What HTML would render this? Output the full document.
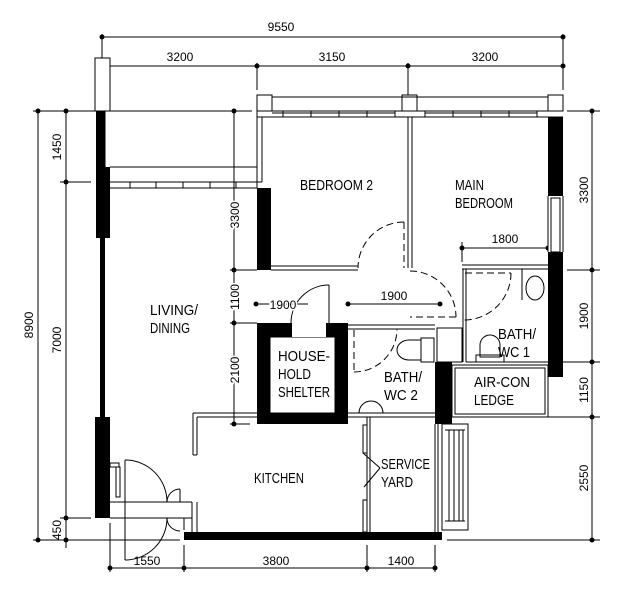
<!DOCTYPE html>
<html><head><meta charset="utf-8"><style>
html,body{margin:0;padding:0;background:#fff}
svg{display:block}
text{font-family:"Liberation Sans",sans-serif;fill:#000}
.t{font-size:15px}
.d{font-size:12px}
</style></head><body>
<svg width="629" height="600" viewBox="0 0 629 600" xmlns="http://www.w3.org/2000/svg">
<g stroke="#000" stroke-width="1" fill="none">
<line x1="102" y1="37" x2="563" y2="37"/>
<line x1="102" y1="66" x2="563" y2="66"/>
<line x1="102" y1="34" x2="102" y2="110"/>
<line x1="563" y1="34" x2="563" y2="90"/>
<line x1="257" y1="63" x2="257" y2="90"/>
<line x1="408" y1="63" x2="408" y2="96"/>
<line x1="38" y1="111" x2="38" y2="540"/>
<line x1="66" y1="111" x2="66" y2="548"/>
<line x1="33" y1="111" x2="252" y2="111"/>
<line x1="60" y1="182" x2="91" y2="182"/>
<line x1="60" y1="518" x2="91" y2="518"/>
<line x1="33" y1="540" x2="180" y2="540"/>
<line x1="234" y1="111" x2="234" y2="424"/>
<line x1="230" y1="270" x2="257" y2="270"/>
<line x1="230" y1="323" x2="257" y2="323"/>
<line x1="230" y1="424" x2="250" y2="424"/>
<line x1="592" y1="111" x2="592" y2="540"/>
<line x1="567" y1="111" x2="600" y2="111"/>
<line x1="567" y1="270" x2="600" y2="270"/>
<line x1="548" y1="362" x2="600" y2="362"/>
<line x1="548" y1="417" x2="600" y2="417"/>
<line x1="447" y1="540" x2="600" y2="540"/>
<line x1="110" y1="568" x2="435" y2="568"/>
<line x1="110" y1="523" x2="110" y2="572"/>
<line x1="184" y1="545" x2="184" y2="572"/>
<line x1="367" y1="545" x2="367" y2="572"/>
<line x1="435" y1="545" x2="435" y2="572"/>
<line x1="256" y1="304" x2="308" y2="304"/>
<line x1="348" y1="304" x2="440" y2="304"/>
<line x1="462" y1="248" x2="548" y2="248"/>
<line x1="462" y1="242" x2="462" y2="262"/>
</g>
<g fill="#000">
<circle cx="102" cy="37" r="2.5"/><circle cx="563" cy="37" r="2.5"/>
<circle cx="102" cy="66" r="2.5"/><circle cx="257" cy="66" r="2.5"/><circle cx="408" cy="66" r="2.5"/><circle cx="563" cy="66" r="2.5"/>
<circle cx="38" cy="111" r="2.5"/><circle cx="38" cy="540" r="2.5"/>
<circle cx="66" cy="111" r="2.5"/><circle cx="66" cy="182" r="2.5"/><circle cx="66" cy="518" r="2.5"/><circle cx="66" cy="540" r="2.5"/>
<circle cx="234" cy="111" r="2.5"/><circle cx="234" cy="270" r="2.5"/><circle cx="234" cy="323" r="2.5"/><circle cx="234" cy="424" r="2.5"/>
<circle cx="592" cy="111" r="2.5"/><circle cx="592" cy="270" r="2.5"/><circle cx="592" cy="362" r="2.5"/><circle cx="592" cy="417" r="2.5"/><circle cx="592" cy="540" r="2.5"/>
<circle cx="110" cy="568" r="2.5"/><circle cx="184" cy="568" r="2.5"/><circle cx="367" cy="568" r="2.5"/><circle cx="435" cy="568" r="2.5"/>
<circle cx="256" cy="304" r="2.5"/><circle cx="348" cy="304" r="2.5"/><circle cx="440" cy="304" r="2.5"/>
<circle cx="462" cy="248" r="2.5"/><circle cx="548" cy="248" r="2.5"/>
<rect x="96" y="111" width="9" height="56"/>
<rect x="96" y="167" width="14" height="71"/>
<rect x="100" y="238" width="5" height="179"/>
<rect x="95" y="417" width="15" height="101"/>
<rect x="257" y="188" width="14" height="82"/>
<rect x="548" y="117" width="15" height="79"/>
<rect x="548" y="252" width="15" height="125"/>
<rect x="257" y="323" width="91" height="101"/>
<rect x="435" y="362" width="17" height="62"/>
<rect x="184" y="532" width="258" height="8"/>
</g>
<g stroke="#000" stroke-width="1" fill="#fff">
<rect x="95" y="58" width="15" height="53"/>
<rect x="257" y="95" width="15" height="16"/>
<rect x="402" y="95" width="15" height="16"/>
<rect x="548" y="95" width="15" height="16"/>
<rect x="270" y="337" width="65" height="76"/>
<rect x="292" y="323" width="34" height="14" stroke="none"/>
<rect x="548" y="196" width="15" height="56" stroke="none"/>
<line x1="548" y1="196" x2="548" y2="252"/>
<line x1="563" y1="196" x2="563" y2="252"/>
<rect x="551" y="198" width="9" height="54"/>
<rect x="437" y="328" width="25" height="34"/>
<rect x="442" y="424" width="26" height="106"/>
<rect x="452" y="365" width="96" height="52"/>
<rect x="455" y="368" width="90" height="46"/>
</g>
<g stroke="#000" stroke-width="1" fill="none">
<line x1="110" y1="167" x2="257" y2="167"/>
<line x1="110" y1="182" x2="262" y2="182"/>
<line x1="110" y1="188" x2="257" y2="188"/>
<line x1="105" y1="111" x2="105" y2="167"/>
<line x1="257" y1="111" x2="257" y2="188"/>
<line x1="262" y1="117" x2="262" y2="182"/>
<path d="M130 182v6M156 182v6M183 182v6M210 182v6M236 182v6"/>
<line x1="272" y1="97" x2="548" y2="97"/>
<line x1="257" y1="111" x2="563" y2="111"/>
<line x1="257" y1="117" x2="563" y2="117"/>
<line x1="272" y1="113" x2="395" y2="113"/>
<line x1="425" y1="113" x2="537" y2="113"/>
<path d="M283 111v6M311 111v6M339 111v6M367 111v6M395 111v6M425 111v6M453 111v6M481 111v6M509 111v6M537 111v6"/>
<line x1="408" y1="117" x2="408" y2="268"/>
<line x1="412" y1="117" x2="412" y2="268"/>
<line x1="271" y1="266" x2="358" y2="266"/>
<line x1="271" y1="270" x2="358" y2="270"/>
<line x1="462" y1="265" x2="548" y2="265"/>
<line x1="462" y1="269" x2="548" y2="269"/>
<line x1="463" y1="269" x2="463" y2="362"/>
<line x1="466" y1="269" x2="466" y2="362"/>
<line x1="466" y1="362" x2="548" y2="362"/>
<ellipse cx="535" cy="288" rx="9" ry="12"/>
<line x1="522" y1="269" x2="522" y2="300"/>
<path d="M480 345 a10 10 0 0 1 20 0 v12 h-20z"/>
<rect x="476" y="355" width="28" height="7"/>
<g stroke-dasharray="7,4">
<path d="M404 222 A46 46 0 0 0 358 268"/>
<line x1="404" y1="222" x2="404" y2="268"/>
<path d="M410 271 A46 46 0 0 1 456 317"/>
<line x1="456" y1="317" x2="410" y2="317"/>
<line x1="465" y1="273" x2="511" y2="273"/>
<path d="M511 273 A47 47 0 0 1 464 320"/>
<line x1="354" y1="330" x2="354" y2="372"/>
<path d="M354 372 A43 43 0 0 0 397 329"/>
</g>
<line x1="329" y1="285" x2="329" y2="323"/>
<path d="M329 285 A38 38 0 0 0 291 323"/>
<line x1="348" y1="325" x2="435" y2="325"/>
<line x1="348" y1="329" x2="435" y2="329"/>
<line x1="348" y1="413" x2="435" y2="413"/>
<line x1="348" y1="417" x2="435" y2="417"/>
<path d="M421 340 h-12 a12 10 0 0 0 0 20 h12z"/>
<rect x="421" y="338" width="13" height="24"/>
<path d="M359 413 a12 12 0 0 1 24 0"/>
<line x1="193" y1="413" x2="257" y2="413"/>
<line x1="197" y1="417" x2="257" y2="417"/>
<line x1="193" y1="413" x2="193" y2="455"/>
<line x1="197" y1="417" x2="197" y2="455"/>
<line x1="193" y1="455" x2="197" y2="455"/>
<line x1="192" y1="502" x2="192" y2="532"/>
<line x1="197" y1="502" x2="197" y2="532"/>
<line x1="367" y1="417" x2="367" y2="532"/>
<line x1="370" y1="417" x2="370" y2="532"/>
<line x1="435" y1="424" x2="435" y2="532"/>
<line x1="438" y1="424" x2="438" y2="532"/>
<rect x="363" y="425" width="4" height="28"/>
<line x1="380" y1="468" x2="364" y2="487"/>
<line x1="380" y1="468" x2="363" y2="453"/>
<rect x="363" y="500" width="4" height="32"/>
<path d="M445 430h20M445 521h20M449 430v91M454 430v91M459 430v91M463 430v91"/>
<line x1="110" y1="502" x2="192" y2="502"/>
<line x1="110" y1="518" x2="192" y2="518"/>
<line x1="184" y1="518" x2="184" y2="530"/>
<line x1="125" y1="460" x2="125" y2="560"/>
<path d="M125 460 A42 42 0 0 1 167 502"/>
<path d="M167 518 A42 42 0 0 1 125 560"/>
<path d="M180 489 A13 13 0 0 0 167 502"/>
<path d="M167 518 A13 13 0 0 0 180 531"/>
<line x1="180" y1="489" x2="180" y2="502"/>
<rect x="110" y="463" width="9" height="4"/>
<rect x="116" y="467" width="4" height="30"/>
</g>
<g class="d">
<text x="281" y="31" text-anchor="middle">9550</text>
<text x="180" y="61" text-anchor="middle">3200</text>
<text x="332" y="61" text-anchor="middle">3150</text>
<text x="485" y="61" text-anchor="middle">3200</text>
<text x="505" y="243" text-anchor="middle">1800</text>
<text x="283" y="309" text-anchor="middle" style="paint-order:stroke" stroke="#fff" stroke-width="3">1900</text>
<text x="394" y="300" text-anchor="middle">1900</text>
<text x="147" y="565" text-anchor="middle">1550</text>
<text x="276" y="565" text-anchor="middle">3800</text>
<text x="401" y="565" text-anchor="middle">1400</text>
<text transform="translate(33,325) rotate(-90)" text-anchor="middle">8900</text>
<text transform="translate(61,147) rotate(-90)" text-anchor="middle">1450</text>
<text transform="translate(61,340) rotate(-90)" text-anchor="middle">7000</text>
<text transform="translate(61,530) rotate(-90)" text-anchor="middle">450</text>
<text transform="translate(239,215) rotate(-90)" text-anchor="middle" style="paint-order:stroke" stroke="#fff" stroke-width="3">3300</text>
<text transform="translate(239,297) rotate(-90)" text-anchor="middle" style="paint-order:stroke" stroke="#fff" stroke-width="3">1100</text>
<text transform="translate(239,370) rotate(-90)" text-anchor="middle" style="paint-order:stroke" stroke="#fff" stroke-width="3">2100</text>
<text transform="translate(588,190) rotate(-90)" text-anchor="middle" style="paint-order:stroke" stroke="#fff" stroke-width="3">3300</text>
<text transform="translate(588,316) rotate(-90)" text-anchor="middle" style="paint-order:stroke" stroke="#fff" stroke-width="3">1900</text>
<text transform="translate(588,390) rotate(-90)" text-anchor="middle" style="paint-order:stroke" stroke="#fff" stroke-width="3">1150</text>
<text transform="translate(588,478) rotate(-90)" text-anchor="middle" style="paint-order:stroke" stroke="#fff" stroke-width="3">2550</text>
</g>
<g class="t">
<text x="150" y="315" textLength="48" lengthAdjust="spacingAndGlyphs">LIVING/</text>
<text x="150" y="333" textLength="40" lengthAdjust="spacingAndGlyphs">DINING</text>
<text x="300" y="190" textLength="73" lengthAdjust="spacingAndGlyphs">BEDROOM  2</text>
<text x="455" y="190" textLength="29" lengthAdjust="spacingAndGlyphs">MAIN</text>
<text x="455" y="208" textLength="58" lengthAdjust="spacingAndGlyphs">BEDROOM</text>
<text x="278" y="361" textLength="52" lengthAdjust="spacingAndGlyphs">HOUSE-</text>
<text x="278" y="379" textLength="33" lengthAdjust="spacingAndGlyphs">HOLD</text>
<text x="278" y="397" textLength="52" lengthAdjust="spacingAndGlyphs">SHELTER</text>
<text x="384" y="382" textLength="38" lengthAdjust="spacingAndGlyphs">BATH/</text>
<text x="384" y="400" textLength="34" lengthAdjust="spacingAndGlyphs">WC  2</text>
<text x="498" y="339" textLength="38" lengthAdjust="spacingAndGlyphs">BATH/</text>
<text x="498" y="357" textLength="32" lengthAdjust="spacingAndGlyphs">WC  1</text>
<text x="474" y="387" textLength="56" lengthAdjust="spacingAndGlyphs">AIR-CON</text>
<text x="474" y="405" textLength="40" lengthAdjust="spacingAndGlyphs">LEDGE</text>
<text x="254" y="483" textLength="50" lengthAdjust="spacingAndGlyphs">KITCHEN</text>
<text x="381" y="469" textLength="49" lengthAdjust="spacingAndGlyphs">SERVICE</text>
<text x="381" y="487" textLength="32" lengthAdjust="spacingAndGlyphs">YARD</text>
</g>
</svg>
</body></html>
